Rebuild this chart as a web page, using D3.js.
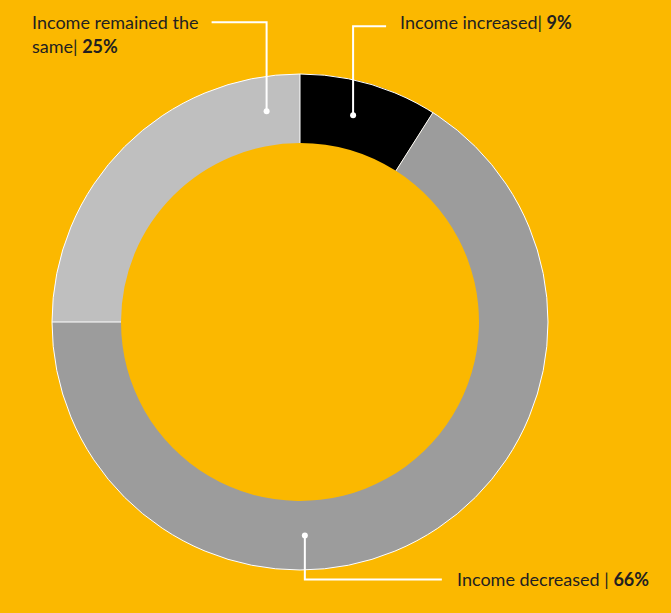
<!DOCTYPE html>
<html><head><meta charset="utf-8">
<script src="https://cdn.jsdelivr.net/npm/d3@7"></script>
<style>
html,body{margin:0;padding:0;background:#FBB800;}
svg{display:block;}
text{font-family:Lato,"Open Sans",sans-serif;fill:#231f20;}
</style></head>
<body>
<svg id="chart" width="671" height="613"></svg>
<script>
const categories = ["Income increased", "Income decreased", "Income remained the same"];
const values = [9, 66, 25];
const colors = ["#000000", "#9c9c9c", "#bfbfbf"];

const W = 671, H = 613;
const cx = 300, cy = 322, R = 248, r = 179;
const svg = d3.select("#chart");
svg.append("rect").attr("width", W).attr("height", H).attr("fill", "#FBB800");
const g = svg.append("g").attr("transform", `translate(${cx},${cy})`);

const data = categories.map((c, i) => ({cat: c, value: values[i], color: colors[i]}));
const pie = d3.pie().value(d => d.value).sort(null);
const arcs = pie(data);
const arc = d3.arc().innerRadius(r).outerRadius(R);

g.selectAll("path.slice").data(arcs).enter().append("path")
  .attr("class", "slice").attr("d", arc).attr("fill", d => d.data.color);

g.append("circle").attr("r", R).attr("fill", "none").attr("stroke", "#fff").attr("stroke-width", 1);
g.selectAll("line.sep").data(arcs).enter().append("line")
  .attr("class", "sep")
  .attr("x1", d => d3.pointRadial(d.startAngle, r)[0])
  .attr("y1", d => d3.pointRadial(d.startAngle, r)[1])
  .attr("x2", d => d3.pointRadial(d.startAngle, R)[0])
  .attr("y2", d => d3.pointRadial(d.startAngle, R)[1])
  .attr("stroke", "#fff").attr("stroke-width", 1);

const mid = (r + R) / 2;
const labelCfg = [
  {ang: 14.4, line: [[0, 0], [0, -89], [33, -89]]},
  {ang: 178.7, line: [[0, 0], [0, 44], [137, 44]]},
  {ang: -9, line: [[0, 0], [0, -89], [-55, -89]]}
];
const lineGen = d3.line();
arcs.forEach((a, i) => {
  const cfg = labelCfg[i];
  const p = d3.pointRadial(cfg.ang * Math.PI / 180, mid);
  const px = cx + p[0], py = cy + p[1];
  svg.append("path")
    .attr("d", lineGen(cfg.line.map(q => [px + q[0], py + q[1]])))
    .attr("fill", "none").attr("stroke", "#fff").attr("stroke-width", 2);
  svg.append("circle").attr("cx", px).attr("cy", py).attr("r", 3).attr("fill", "#fff");
});

const fs = 18;
let t = svg.append("text").attr("x", 400).attr("y", 29).attr("font-size", fs);
t.append("tspan").text(categories[0] + "| ");
t.append("tspan").attr("font-weight", "bold").text(values[0] + "%");
t = svg.append("text").attr("x", 457).attr("y", 586).attr("font-size", fs);
t.append("tspan").text(categories[1] + " | ");
t.append("tspan").attr("font-weight", "bold").text(values[1] + "%");
t = svg.append("text").attr("x", 32).attr("y", 29).attr("font-size", fs);
t.append("tspan").text("Income remained the");
const t2 = svg.append("text").attr("x", 32).attr("y", 53).attr("font-size", fs);
t2.append("tspan").text("same| ");
t2.append("tspan").attr("font-weight", "bold").text(values[2] + "%");
</script>
</body></html>
